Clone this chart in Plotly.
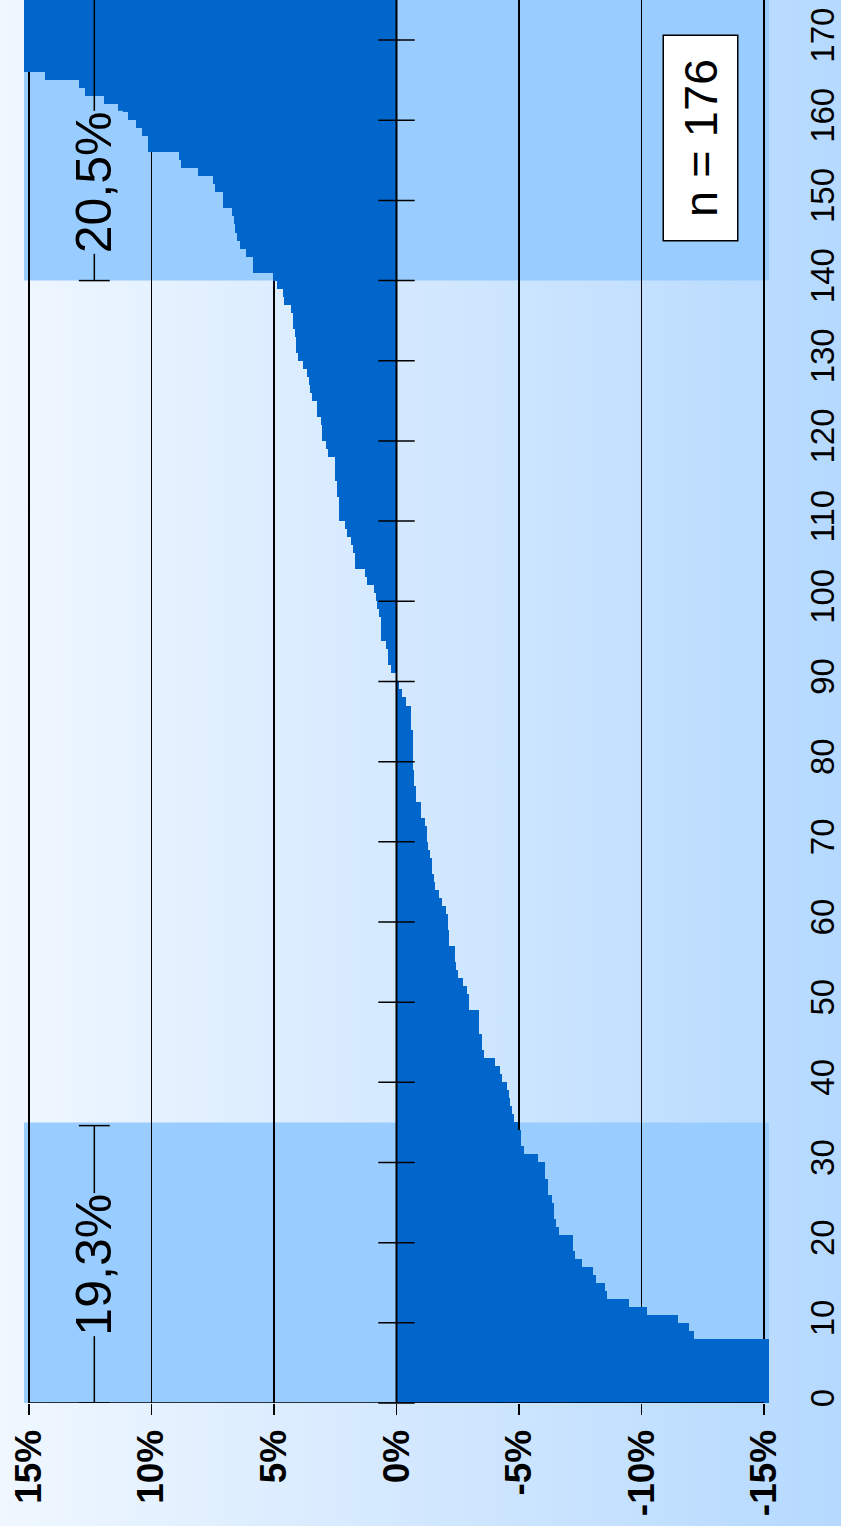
import base64
import plotly.graph_objects as go

# ---------------- data ----------------
values = [
    -24.0, -21.5, -19.6, -18.4, -17.3, -16.6, -16.0, -15.5,
    -12.15, -11.95, -11.5, -10.23, -9.5, -8.6, -8.5, -8.15, -8.0, -7.57, -7.27, -7.2,
    -7.2, -6.63, -6.5, -6.42, -6.42, -6.33, -6.2, -6.2, -6.05, -6.05,
    -5.76, -5.19, -5.07, -5.07, -4.96, -4.8, -4.71, -4.63, -4.58, -4.5,
    -4.3, -4.22, -4.02, -3.57, -3.49, -3.49, -3.37, -3.37, -3.37, -2.96,
    -2.96, -2.87, -2.71, -2.5, -2.43, -2.38, -2.38, -2.14, -2.14, -2.1,
    -2.1, -2.02, -1.85, -1.73, -1.57, -1.53, -1.44, -1.44, -1.36, -1.28,
    -1.24, -1.24, -1.16, -0.99, -0.99, -0.79, -0.79, -0.71, -0.71, -0.67,
    -0.67, -0.67, -0.67, -0.67, -0.59, -0.59, -0.59, -0.38, -0.22, -0.1,
    0.02, 0.23, 0.35, 0.35, 0.43, 0.63, 0.63, 0.63, 0.71, 0.79,
    0.83, 0.91, 1.2, 1.28, 1.68, 1.68, 1.76, 1.84, 2.04, 2.12,
    2.33, 2.33, 2.33, 2.41, 2.41, 2.49, 2.53, 2.53, 2.81, 2.89,
    3.05, 3.05, 3.09, 3.25, 3.25, 3.45, 3.53, 3.58, 3.66, 3.82,
    4.02, 4.1, 4.1, 4.14, 4.22, 4.22, 4.3, 4.6, 4.65, 4.86,
    5.05, 5.87, 5.87, 6.16, 6.37, 6.49, 6.57, 6.65, 6.73, 7.06,
    7.06, 7.42, 7.5, 8.08, 8.78, 8.86, 10.13, 10.13, 10.37, 10.65,
    10.94, 11.36, 11.93, 12.71, 12.96, 14.36, 15.6, 16.1, 16.8, 17.5,
    18.3, 19.4, 20.6, 22.1, 24.5, 28.0,
]
n = len(values)
index = list(range(n))

value_ticks = [15, 10, 5, 0, -5, -10, -15]
value_ticktext = ["15%", "10%", "5%", "0%", "-5%", "-10%", "-15%"]
index_ticks = list(range(0, 171, 10))

low_band = (0, 35)
high_band = (140, 176)
low_label = "19,3%"
high_label = "20,5%"
n_label = "n = " + str(n)

# ---------------- styling ----------------
W, H = 841, 1526
BAR = "#0066CC"
BAND = "#99CCFF"
SANS = "Liberation Sans, Arial, Helvetica, sans-serif"

xdom = [24 / W, 769 / W]
ydom = [123 / H, 1.0]
xrange_ = [15.2, -15.2]
yrange_ = [0, 175]

svg = (
    "<svg xmlns='http://www.w3.org/2000/svg' width='841' height='1526' preserveAspectRatio='none'>"
    "<defs><linearGradient id='g' x1='0' y1='0' x2='1' y2='0'>"
    "<stop offset='0' stop-color='#f0f7ff'/><stop offset='1' stop-color='#b5d9ff'/>"
    "</linearGradient></defs><rect width='841' height='1526' fill='url(#g)'/></svg>"
)
bg_uri = "data:image/svg+xml;base64," + base64.b64encode(svg.encode()).decode()

fig = go.Figure()

fig.add_trace(go.Bar(
    x=values,
    y=[i + 0.5 for i in index],
    orientation="h",
    width=1,
    marker=dict(color=BAR, line=dict(width=0)),
    hoverinfo="skip",
))

# index tick marks crossing the 0% line
fig.add_trace(go.Scatter(
    x=[0] * len(index_ticks),
    y=index_ticks,
    mode="markers",
    marker=dict(symbol="line-ew", size=26, line=dict(color="black", width=1.5)),
    cliponaxis=False,
    hoverinfo="skip",
))

shapes = []
for b in (low_band, high_band):
    shapes.append(dict(type="rect", xref="x domain", yref="y", x0=0, x1=1, y0=b[0], y1=b[1],
                       fillcolor=BAND, line=dict(width=0), layer="below"))
# zero line above bars
shapes.append(dict(type="line", xref="x", yref="y domain", x0=0, x1=0, y0=0, y1=1,
                   line=dict(color="black", width=2), layer="above"))
# bottom axis line from -15% to 15%
shapes.append(dict(type="line", xref="x", yref="y", x0=max(value_ticks), x1=min(value_ticks),
                   y0=0, y1=0, line=dict(color="black", width=1.5), layer="above"))
# brackets
bx, bw = 12.33, 0.63
for y0, y1, caps in ((0, 34.6, (0, 34.6)), (140, 176, (140,))):
    shapes.append(dict(type="line", xref="x", yref="y", x0=bx, x1=bx, y0=y0, y1=y1,
                       line=dict(color="black", width=1.5), layer="above"))
    for c in caps:
        shapes.append(dict(type="line", xref="x", yref="y", x0=bx - bw, x1=bx + bw, y0=c, y1=c,
                           line=dict(color="black", width=1.5), layer="above"))

annotations = [
    dict(text=low_label, x=bx, y=17.3, xref="x", yref="y", showarrow=False, textangle=-90,
         font=dict(family=SANS, size=50, color="black"), bgcolor=BAND, borderpad=0,
         xanchor="center", yanchor="middle"),
    dict(text=high_label, x=bx, y=152.3, xref="x", yref="y", showarrow=False, textangle=-90,
         font=dict(family=SANS, size=50, color="black"), bgcolor=BAND, borderpad=0,
         xanchor="center", yanchor="middle"),
    dict(text="\u00a0" + n_label + "\u00a0", x=700.5 / W, y=1 - 138 / H, xref="paper", yref="paper",
         showarrow=False, textangle=-90,
         font=dict(family=SANS, size=47, color="black"), bgcolor="white",
         bordercolor="black", borderwidth=1.5, borderpad=10,
         xanchor="center", yanchor="middle"),
]

fig.update_layout(
    width=W, height=H,
    margin=dict(l=0, r=0, t=0, b=0),
    paper_bgcolor="#d6eaff",
    plot_bgcolor="rgba(0,0,0,0)",
    showlegend=False,
    bargap=0,
    shapes=shapes,
    annotations=annotations,
    images=[dict(source=bg_uri, xref="paper", yref="paper", x=0, y=1, sizex=1, sizey=1,
                 xanchor="left", yanchor="top", sizing="stretch", layer="below")],
    xaxis=dict(
        domain=xdom, range=xrange_, tickvals=value_ticks, ticktext=value_ticktext,
        tickangle=-90, tickfont=dict(family=SANS, size=37, color="black", weight="bold"),
        ticks="outside", ticklen=11, tickwidth=1.5, tickcolor="black",
        showgrid=True, gridcolor="black", gridwidth=1.5, zeroline=False,
        showline=False, automargin=False, fixedrange=True,
    ),
    yaxis=dict(
        domain=ydom, range=yrange_, side="right", tickvals=index_ticks,
        tickangle=-90, tickfont=dict(family=SANS, size=33, color="black"),
        ticks="", showgrid=False, zeroline=False, showline=False,
        ticklabelstandoff=31, automargin=False, fixedrange=True,
    ),
)

fig.write_html(
    "out.html",
    config={"displayModeBar": False, "staticPlot": True},
    post_script="document.body.style.margin='0';document.body.style.overflow='hidden';",
)
